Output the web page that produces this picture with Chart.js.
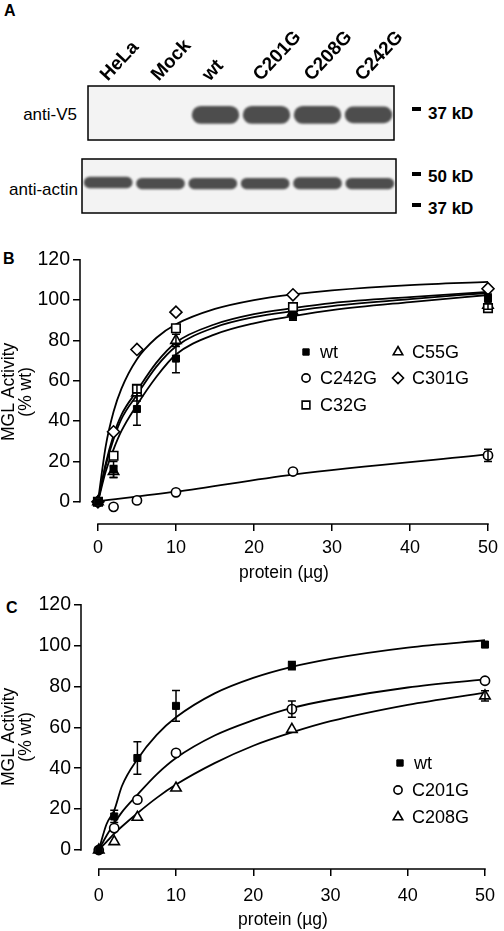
<!DOCTYPE html>
<html>
<head>
<meta charset="utf-8">
<script src="https://cdn.jsdelivr.net/npm/chart.js@4.4.1/dist/chart.umd.min.js"></script>
<style>
  body { margin: 0; background: #fff; width: 504px; height: 931px; position: relative; overflow: hidden;
         font-family: "Liberation Sans", Arial, Helvetica, sans-serif; color: #000; }
  canvas { position: absolute; left: 0; }
  .t { position: absolute; font-size: 17px; line-height: 1; white-space: nowrap; }
  .b { font-weight: bold; }
  .dash { position: absolute; width: 9px; height: 4px; background: #000; }
</style>
</head>
<body>
<div class="t b" style="left:4px;top:3px;font-size:16px">A</div>
<div class="t b" style="left:3px;top:251px;font-size:16px">B</div>
<div class="t b" style="left:6px;top:600px;font-size:16px">C</div>

<div class="t" style="left:0;width:77px;text-align:right;top:106px">anti-V5</div>
<div class="t" style="left:0;width:78px;text-align:right;top:181px">anti-actin</div>
<div class="dash" style="left:412px;top:107px"></div>
<div class="t b" style="left:428px;top:105px">37 kD</div>
<div class="dash" style="left:412px;top:172px"></div>
<div class="t b" style="left:428px;top:168px">50 kD</div>
<div class="dash" style="left:412px;top:203px"></div>
<div class="t b" style="left:428px;top:200px">37 kD</div>

<canvas id="blotV5" style="top:0" width="504" height="145"></canvas>
<canvas id="blotActin" style="top:150px" width="504" height="70"></canvas>
<canvas id="chartB" style="top:245px" width="504" height="345"></canvas>
<canvas id="chartC" style="top:590px" width="504" height="341"></canvas>

<script>
Chart.defaults.font.family = '"Liberation Sans", Arial, Helvetica, sans-serif';
Chart.defaults.font.size = 17;
Chart.defaults.color = '#000';

// ---- panel A: lanes and band positions (relative migration, 0 = bottom of blot, 100 = top)
const lanes = ["HeLa", "Mock", "wt", "C201G", "C208G", "C242G"];
const v5Bands = [null, null, [30, 63], [30, 63], [30, 63], [31, 62]];
const actinBands = [[46, 67], [44, 65], [44, 65], [44, 65], [44, 66], [44, 65]];

// ---- axes
const xTicks = [0, 10, 20, 30, 40, 50];
const yTicks = [0, 20, 40, 60, 80, 100, 120];

// ---- panel B: measured points (protein in µg, activity in % wt)
const dose = [0, 2, 5, 10, 25, 50];
const bWt = [0, 16, 46, 71, 92, 101];
const bWtErr = [0, 4, 8, 7, 2, 2];
const bC242G = [0, -2.5, 0.7, 4.7, 15, 23];
const bC242GErr = [0, 0, 0, 0, 0, 3];
const bC32G = [0, 22.8, 56, 86, 96.5, 96];
const bC55G = [0, 15, 54, 80, 94, 97.5];
const bC55GErr = [0, 3, 4, 3, 0, 2];
const bC301G = [0, 34.7, 75.5, 94, 102.6, 105.6];

// fitted curves
const fitX = [0, 1, 2, 3, 5, 7.5, 10, 15, 20, 25, 30, 40, 50];
const bFitWt = [0, 15, 26, 35, 48, 62, 73, 83, 88.5, 92, 95, 99, 102.5];
const bFitC32G = [0, 19, 33, 43, 55, 69, 79, 88, 93, 96, 98.5, 101.5, 104];
const bFitC55G = [0, 18, 31, 41, 53, 67, 77, 86.5, 91.5, 94.5, 97, 100.5, 103.5];
const bFitC301G = [0, 27.6, 44.6, 56, 70.7, 81.3, 88, 95.6, 100, 102.8, 104.8, 107.4, 109];
const bFitC242GX = [0, 10, 25, 50];
const bFitC242G = [0.3, 5, 13.5, 23.5];

// ---- panel C
const cWt = [0, 16.4, 45, 70.5, 90.2, 100.5];
const cWtErr = [0, 3, 8, 7.5, 2, 0];
const cC201G = [0, 10.7, 24.6, 47.5, 68.9, 82.8];
const cC201GErr = [0, 0, 0, 0, 4, 0];
const cC208G = [0, 4.1, 16, 30.3, 59, 75.4];
const cC208GErr = [0, 0, 0, 0, 0, 2.5];
const cFitWt = [0, 12.6, 19.4, 31.3, 44.4, 56.3, 64.9, 76.6, 84.2, 89.6, 93.5, 99, 102.6];
const cFitC201G = [0, 7, 13, 18.5, 27, 37, 45, 56, 63.5, 69.5, 73.5, 79.5, 83.5];
const cFitC208G = [0, 4, 8, 11.5, 18, 25.5, 32, 42.5, 51, 57.5, 63, 71, 77];

function pts(xs, ys) { return xs.map((v, i) => ({ x: v, y: ys[i] })); }

// move the plot area onto the target box by adjusting layout padding
function fitArea(chart, target) {
  for (let k = 0; k < 3; k++) {
    const a = chart.chartArea, p = chart.options.layout.padding;
    p.left += target.left - a.left;
    p.top += target.top - a.top;
    p.right += a.right - target.right;
    p.bottom += a.bottom - target.bottom;
    chart.update();
  }
}

// ---- blots
const blotFrame = {
  id: 'blotFrame',
  beforeDatasetsDraw(chart) {
    const { ctx, chartArea: a } = chart;
    ctx.save();
    ctx.fillStyle = '#f3f3f3';
    ctx.fillRect(a.left, a.top, a.right - a.left, a.bottom - a.top);
    ctx.restore();
    ctx.filter = 'blur(1.2px)';
  },
  afterDatasetsDraw(chart) {
    const { ctx, chartArea: a } = chart;
    ctx.filter = 'none';
    ctx.save();
    ctx.strokeStyle = '#000';
    ctx.lineWidth = 1.5;
    ctx.strokeRect(a.left, a.top, a.right - a.left, a.bottom - a.top);
    ctx.restore();
  }
};

function blot(id, bands, showLanes, target, axisH) {
  const chart = new Chart(id, {
    type: 'bar',
    data: {
      labels: lanes,
      datasets: [{
        data: bands,
        backgroundColor: '#4d4d4d',
        borderRadius: 9,
        borderSkipped: false,
        barPercentage: 0.93,
        categoryPercentage: 1
      }]
    },
    options: {
      responsive: false,
      animation: false,
      events: [],
      layout: { padding: { left: 0, right: 0, top: 0, bottom: 0 } },
      plugins: { legend: { display: false }, tooltip: { enabled: false } },
      scales: {
        x: {
          position: 'top',
          display: showLanes,
          grid: { display: false, drawTicks: false },
          border: { display: false },
          ticks: { minRotation: 47, maxRotation: 47, padding: 0, labelOffset: 7, font: { size: 19, weight: 'bold' } },
          afterFit: (s) => { s.height = axisH; }
        },
        y: { display: false, min: 0, max: 100 }
      }
    },
    plugins: [blotFrame]
  });
  fitArea(chart, target);
  return chart;
}

blot('blotV5', v5Bands, true, { left: 88, top: 86, right: 394, bottom: 140 }, 86);
blot('blotActin', actinBands, false, { left: 82, top: 9, right: 396, bottom: 63 }, 0);

// ---- activity plots
const errorBars = {
  id: 'errorBars',
  afterDatasetsDraw(chart) {
    const { ctx, scales: { x, y } } = chart;
    ctx.save();
    ctx.strokeStyle = '#000';
    ctx.lineWidth = 1.5;
    chart.data.datasets.forEach(ds => {
      if (!ds.err) return;
      ds.data.forEach((p, i) => {
        const e = ds.err[i];
        if (!e) return;
        const px = x.getPixelForValue(p.x);
        const top = y.getPixelForValue(p.y + e), bot = y.getPixelForValue(p.y - e);
        ctx.beginPath();
        ctx.moveTo(px, top); ctx.lineTo(px, bot);
        ctx.moveTo(px - 4, top); ctx.lineTo(px + 4, top);
        ctx.moveTo(px - 4, bot); ctx.lineTo(px + 4, bot);
        ctx.stroke();
      });
    });
    ctx.restore();
  }
};

const axisLines = {
  id: 'axisLines',
  afterDraw(chart) {
    const { ctx, chartArea: a, scales: { x, y } } = chart;
    ctx.save();
    ctx.strokeStyle = '#000';
    ctx.lineWidth = 1.5;
    ctx.beginPath();
    ctx.moveTo(a.left, y.getPixelForValue(yTicks[0]) + 0.75);
    ctx.lineTo(a.left, y.getPixelForValue(yTicks[yTicks.length - 1]) - 0.75);
    ctx.moveTo(x.getPixelForValue(xTicks[0]) - 0.75, a.bottom);
    ctx.lineTo(x.getPixelForValue(xTicks[xTicks.length - 1]) + 0.75, a.bottom);
    ctx.stroke();
    ctx.restore();
  }
};

const markerLegend = {
  id: 'markerLegend',
  afterDraw(chart, args, opts) {
    const ctx = chart.ctx;
    (opts.items || []).forEach(it => {
      const ds = chart.data.datasets.find(d => d.label === it.label);
      ctx.save();
      ctx.fillStyle = ds.pointBackgroundColor;
      ctx.strokeStyle = ds.pointBorderColor;
      ctx.lineWidth = ds.pointBorderWidth;
      Chart.helpers.drawPoint(ctx, {
        pointStyle: ds.pointStyle, radius: ds.pointRadius - 0.5, rotation: 0, borderWidth: ds.pointBorderWidth
      }, it.x, it.y);
      ctx.fillStyle = '#000';
      ctx.font = '18px "Liberation Sans", Arial, sans-serif';
      ctx.textBaseline = 'middle';
      ctx.textAlign = 'left';
      ctx.fillText(ds.label, it.x + 14, it.y + 1);
      ctx.restore();
    });
  }
};

function marks(label, ys, style, radius, filled, err) {
  return {
    label: label,
    data: pts(dose, ys),
    err: err,
    showLine: false,
    pointStyle: style,
    pointRadius: radius,
    pointBackgroundColor: filled ? '#000' : '#fff',
    pointBorderColor: '#000',
    pointBorderWidth: filled ? 1 : 1.6,
    clip: false
  };
}

function fit(xs, ys) {
  return {
    label: '',
    data: pts(xs, ys),
    showLine: true,
    pointRadius: 0,
    borderColor: '#000',
    borderWidth: 1.8,
    cubicInterpolationMode: 'monotone',
    fill: false,
    clip: false
  };
}

function activityPlot(id, datasets, yMin, target, xAxisH, tickPad, legendItems) {
  const chart = new Chart(id, {
    type: 'scatter',
    data: { datasets: datasets },
    options: {
      responsive: false,
      animation: false,
      events: [],
      layout: { padding: { left: 0, right: 0, top: 0, bottom: 0 } },
      plugins: {
        legend: { display: false },
        tooltip: { enabled: false },
        markerLegend: { items: legendItems }
      },
      scales: {
        x: {
          type: 'linear', min: -2.3, max: 50,
          afterBuildTicks: (s) => { s.ticks = xTicks.map(v => ({ value: v })); },
          afterFit: (s) => { s.height = xAxisH; },
          grid: { drawOnChartArea: false, color: '#000', lineWidth: 1.5, tickLength: 7 },
          border: { display: false },
          ticks: { padding: tickPad, font: { size: 18 } },
          title: { display: true, text: 'protein (µg)', font: { size: 17.5, lineHeight: 1 }, padding: { top: 0, bottom: 0 } }
        },
        y: {
          min: yMin, max: 120,
          afterBuildTicks: (s) => { s.ticks = yTicks.map(v => ({ value: v })); },
          afterFit: (s) => { s.width = target.left; },
          grid: { drawOnChartArea: false, color: '#000', lineWidth: 1.5, tickLength: 7 },
          border: { display: false },
          ticks: { padding: 3, font: { size: 19.5 } },
          title: { display: true, text: ['MGL Activity', '(% wt)'], font: { size: 17.5, lineHeight: 1 }, padding: { top: 0, bottom: 0 } }
        }
      }
    },
    plugins: [errorBars, axisLines, markerLegend]
  });
  fitArea(chart, target);
  return chart;
}

activityPlot('chartB', [
  marks('wt', bWt, 'rect', 5, true, bWtErr),
  marks('C242G', bC242G, 'circle', 4.6, false, bC242GErr),
  marks('C32G', bC32G, 'rect', 6, false),
  marks('C55G', bC55G, 'triangle', 6, false, bC55GErr),
  marks('C301G', bC301G, 'rectRot', 6, false),
  fit(fitX, bFitWt),
  fit(fitX, bFitC32G),
  fit(fitX, bFitC55G),
  fit(fitX, bFitC301G),
  fit(bFitC242GX, bFitC242G)
], -11, { left: 80, top: 18, right: 493, bottom: 279 }, 57.5, 6, [
  { label: 'wt', x: 306, y: 107 },
  { label: 'C242G', x: 306, y: 133 },
  { label: 'C32G', x: 306, y: 160 },
  { label: 'C55G', x: 398, y: 107 },
  { label: 'C301G', x: 398, y: 133 }
]);

activityPlot('chartC', [
  marks('wt', cWt, 'rect', 5, true, cWtErr),
  marks('C201G', cC201G, 'circle', 4.6, false, cC201GErr),
  marks('C208G', cC208G, 'triangle', 6, false, cC208GErr),
  fit(fitX, cFitWt),
  fit(fitX, cFitC201G),
  fit(fitX, cFitC208G)
], -9.3, { left: 81, top: 16, right: 495, bottom: 279 }, 59.5, 9, [
  { label: 'wt', x: 400, y: 173 },
  { label: 'C201G', x: 398, y: 200 },
  { label: 'C208G', x: 398, y: 227 }
]);
</script>
</body>
</html>
